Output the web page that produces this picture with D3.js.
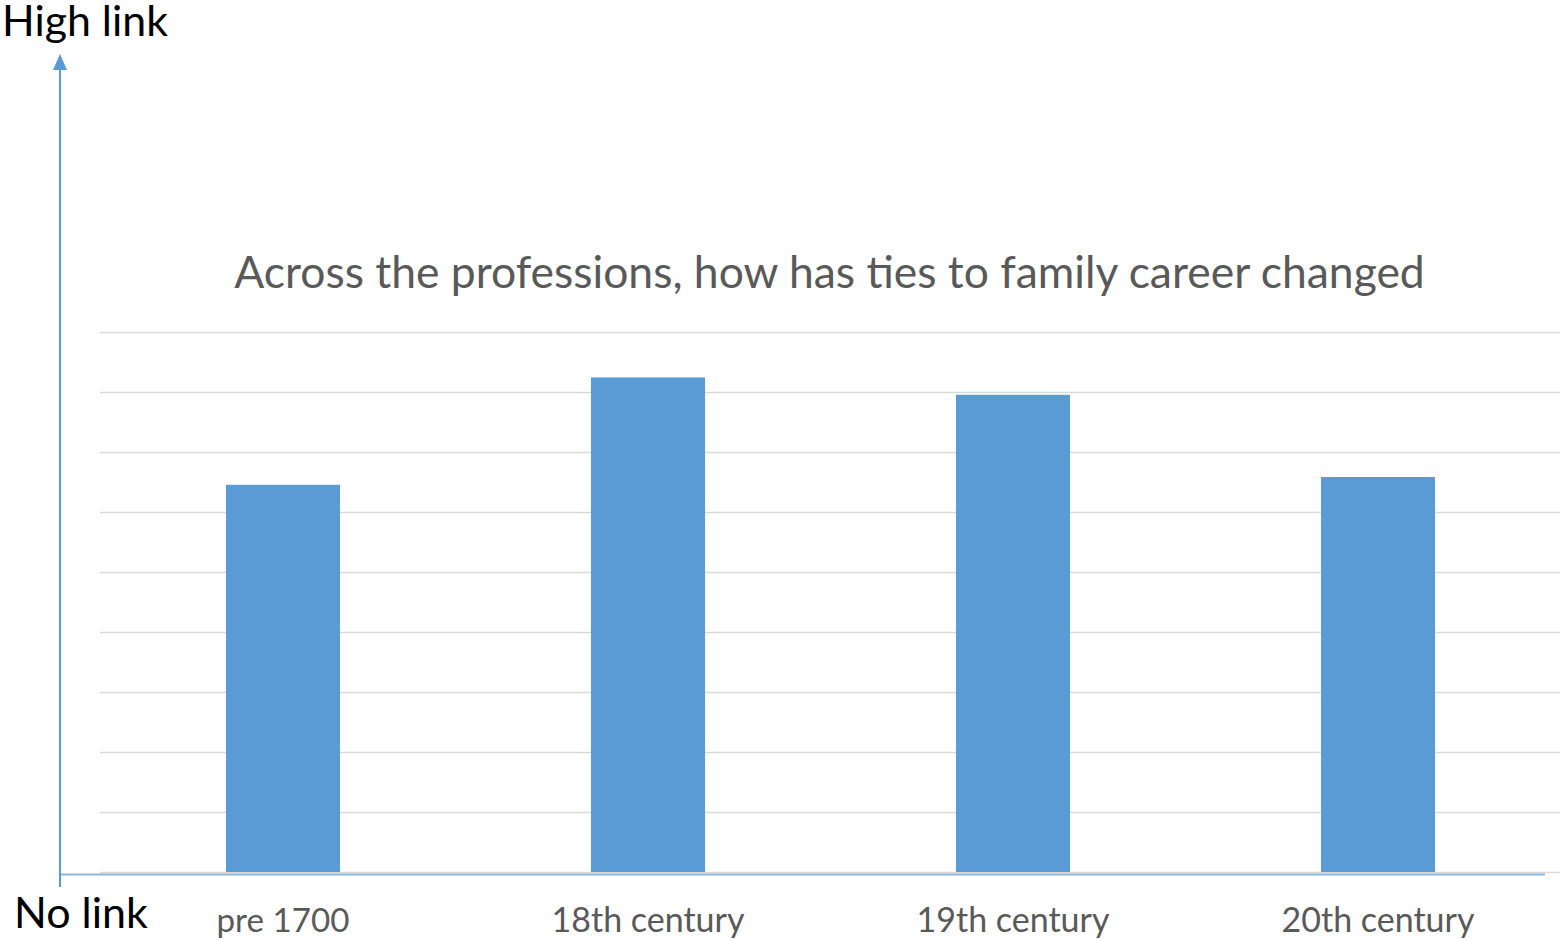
<!DOCTYPE html>
<html><head><meta charset="utf-8">
<script src="https://cdn.jsdelivr.net/npm/d3@7"></script>
<style>html,body{margin:0;padding:0;background:#fff}svg{display:block}</style>
</head><body>
<svg id="c" width="1562" height="940"></svg>
<script>
const categories = ["pre 1700", "18th century", "19th century", "20th century"];
const values = [6.47, 8.26, 7.97, 6.6];
const gridTicks = [0,1,2,3,4,5,6,7,8,9];
const title = "Across the professions, how has ties to family career changed";

const svg = d3.select("#c");
const FONT = "Lato, 'Open Sans', sans-serif";
const x = d3.scaleBand().domain(categories).range([100.5,1560.5]).paddingInner(0.6877).paddingOuter(0.34385);
const y = d3.scaleLinear().domain([0,9]).range([873,333]);

// gridlines
svg.append("g").selectAll("line").data(gridTicks).join("line")
  .attr("x1",100).attr("x2",1560)
  .attr("y1",d=>y(d)-0.5).attr("y2",d=>y(d)-0.5)
  .attr("stroke","#d9d9d9").attr("stroke-width",1.5);

// bars
svg.append("g").selectAll("rect").data(values).join("rect")
  .attr("x",(d,i)=>x(categories[i]))
  .attr("width",x.bandwidth())
  .attr("y",d=>y(d))
  .attr("height",d=>y(0)-1-y(d))
  .attr("fill","#5b9bd5");

// axes lines
const axisCol = "#5b9bd5";
svg.append("line").attr("x1",60).attr("x2",1545).attr("y1",874.5).attr("y2",874.5)
  .attr("stroke","#8db6e0").attr("stroke-width",2);
svg.append("line").attr("x1",60).attr("x2",60).attr("y1",887).attr("y2",66)
  .attr("stroke",axisCol).attr("stroke-width",2);
svg.append("path").attr("d","M60,54 L53,70 L67,70 Z").attr("fill",axisCol);

function fitText(sel, targetW, base){
  sel.attr("font-size",base);
  const w = sel.node().getComputedTextLength();
  sel.attr("font-size", base*targetW/w);
}

// title
const t = svg.append("text").attr("x",829.5).attr("y",288).attr("text-anchor","middle")
  .attr("font-family",FONT).attr("fill","#595959").text(title);
fitText(t, 1191, 38);

// category labels
categories.forEach(c=>{
  const tt = svg.append("text").attr("x",x(c)+x.bandwidth()/2).attr("y",932)
    .attr("text-anchor","middle").attr("font-family",FONT).attr("fill","#595959").text(c);
  const targets = {"pre 1700":133,"18th century":193,"19th century":193,"20th century":193};
  fitText(tt, targets[c], 32);
});

// axis end labels
const h = svg.append("text").attr("x",2).attr("y",36).attr("font-family",FONT).attr("fill","#000").text("High link");
fitText(h,166,40);
const n = svg.append("text").attr("x",14).attr("y",928).attr("font-family",FONT).attr("fill","#000").text("No link");
fitText(n,134,40);
</script>
</body></html>
